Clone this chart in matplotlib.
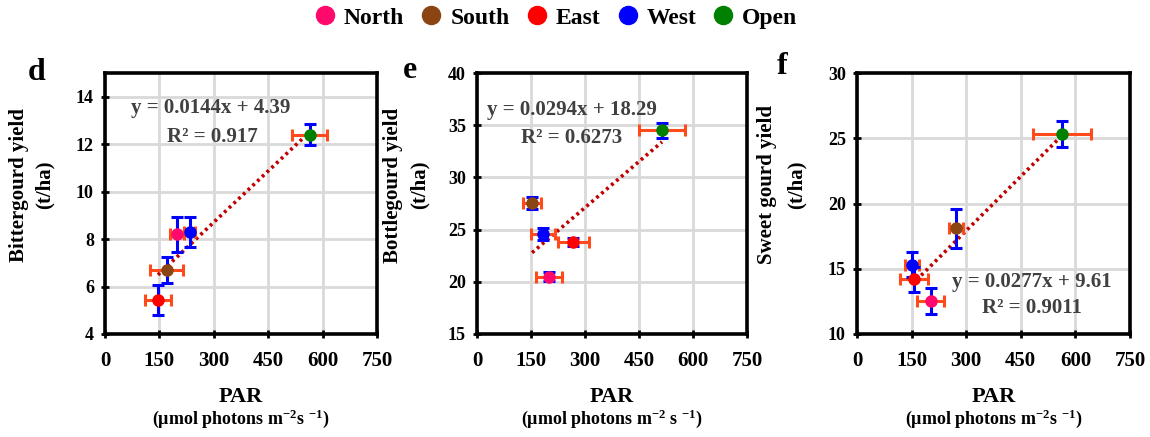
import matplotlib
matplotlib.use("Agg")
import matplotlib.pyplot as plt
from matplotlib.lines import Line2D
import numpy as np

plt.rcParams["font.family"] = ["Liberation Serif", "DejaVu Serif"]
plt.rcParams["font.weight"] = "bold"
plt.rcParams["mathtext.fontset"] = "custom"
plt.rcParams["mathtext.rm"] = "Liberation Serif:bold"
plt.rcParams["mathtext.default"] = "rm"

# Orientation groups
zones = ["North", "South", "East", "West", "Open"]
zone_colors = ["#FF0A6C", "#8B4513", "#FF0000", "#0000FF", "#008000"]

# Panel d: bittergourd
d_par = [198, 170, 146, 234, 565]
d_par_err = [20, 45, 37, 15, 48]
d_yield = [8.2, 6.7, 5.45, 8.3, 12.4]
d_yield_err = [0.75, 0.55, 0.63, 0.65, 0.45]
d_fit = (0.0144, 4.39, 0.917)

# Panel e: bottlegourd
e_par = [200, 153, 267, 183, 514]
e_par_err = [35, 25, 43, 33, 64]
e_yield = [20.5, 27.55, 23.8, 24.6, 34.5]
e_yield_err = [0.4, 0.6, 0.4, 0.6, 0.75]
e_fit = (0.0294, 18.29, 0.6273)

# Panel f: sweet gourd
f_par = [203, 272, 157, 151, 563]
f_par_err = [37, 20, 39, 18, 80]
f_yield = [12.5, 18.1, 14.2, 15.3, 25.3]
f_yield_err = [1.0, 1.5, 0.95, 0.95, 1.0]
f_fit = (0.0277, 9.61, 0.9011)

x_ticks = [0, 150, 300, 450, 600, 750]

W, H = 1150, 437
fig = plt.figure(figsize=(W / 100, H / 100), dpi=100)


def px(x, y):
    return x / W, 1 - y / H


panels = [
    dict(letter="d", par=d_par, perr=d_par_err, yld=d_yield, yerr=d_yield_err,
         fit=d_fit, ylim=(4, 15), yticks=[4, 6, 8, 10, 12, 14],
         ylabel="Bittergourd yield", left=105, right=377,
         letter_xy=(37, 72), ylab_x=(19, 45),
         eq_xy=(211, 108), r2_xy=(212, 137),
         xlab2=r"(µmol photons m$^{-2}$s $^{-1}$)"),
    dict(letter="e", par=e_par, perr=e_par_err, yld=e_yield, yerr=e_yield_err,
         fit=e_fit, ylim=(15, 40), yticks=[15, 20, 25, 30, 35, 40],
         ylabel="Bottlegourd yield", left=477, right=747,
         letter_xy=(410, 71), ylab_x=(393, 420),
         eq_xy=(572, 110), r2_xy=(572, 138),
         xlab2=r"(µmol photons m$^{-2}$ s $^{-1}$)"),
    dict(letter="f", par=f_par, perr=f_par_err, yld=f_yield, yerr=f_yield_err,
         fit=f_fit, ylim=(10, 30), yticks=[10, 15, 20, 25, 30],
         ylabel="Sweet gourd yield", left=857, right=1130,
         letter_xy=(782, 66), ylab_x=(767, 797),
         eq_xy=(1032, 282), r2_xy=(1032, 308),
         xlab2=r"(µmol photons m$^{-2}$s $^{-1}$)"),
]

top_px, bot_px = 73, 334

for p in panels:
    l, r = p["left"], p["right"]
    ax = fig.add_axes([l / W, 1 - bot_px / H, (r - l) / W, (bot_px - top_px) / H])
    ax.set_xlim(0, 750)
    ax.set_ylim(*p["ylim"])
    ax.set_xticks(x_ticks)
    ax.set_yticks(p["yticks"])
    ax.grid(True, color="#D9D9D9", linewidth=2)
    ax.set_axisbelow(True)
    for s in ax.spines.values():
        s.set_linewidth(2.6)
        s.set_color("black")
    ax.tick_params(axis="x", direction="inout", length=6, width=2, labelsize=15, pad=9)
    ax.tick_params(axis="y", direction="inout", length=6, width=2, labelsize=13, pad=5)
    for t in ax.get_xticklabels() + ax.get_yticklabels():
        t.set_fontweight("bold")

    slope, icpt, r2 = p["fit"]
    xs = np.array([min(p["par"]), max(p["par"])])
    ax.plot(xs, slope * xs + icpt, color="#C00000", linewidth=2.6,
            linestyle=(0, (0.8, 1.0)), zorder=3)

    for i in range(len(zones)):
        ax.errorbar(p["par"][i], p["yld"][i], xerr=p["perr"][i], fmt="none",
                    ecolor="#FF4A1C", elinewidth=2.2, capsize=4, capthick=2.2, zorder=4)
        ax.errorbar(p["par"][i], p["yld"][i], yerr=p["yerr"][i], fmt="none",
                    ecolor="#0000FF", elinewidth=2.2, capsize=4, capthick=2.2, zorder=5)
        ax.plot(p["par"][i], p["yld"][i], "o", color=zone_colors[i],
                markersize=8, zorder=6)

    fig.text(*px(*p["eq_xy"]), f"y = {slope}x + {icpt}", ha="center", va="center",
             fontsize=15, fontweight="bold", color="#404040")
    fig.text(*px(*p["r2_xy"]), f"R² = {r2}", ha="center", va="center",
             fontsize=15, fontweight="bold", color="#404040")

    fig.text(*px(*p["letter_xy"]), p["letter"], ha="center", va="center",
             fontsize=23, fontweight="bold")
    fig.text(*px(p["ylab_x"][0], 185), p["ylabel"], rotation=90, ha="center",
             va="center", fontsize=15, fontweight="bold")
    fig.text(*px(p["ylab_x"][1], 185), "(t/ha)", rotation=90, ha="center",
             va="center", fontsize=15, fontweight="bold")

    cx = (l + r) / 2
    fig.text(*px(cx, 397), "PAR", ha="center", va="center", fontsize=16,
             fontweight="bold")
    fig.text(*px(cx, 419), p["xlab2"], ha="center", va="center", fontsize=13,
             fontweight="bold")

handles = [Line2D([], [], marker="o", linestyle="none", color=c, markersize=13)
           for c in zone_colors]
fig.legend(handles, zones, loc="center", bbox_to_anchor=px(556, 18), ncol=5,
           frameon=False, handlelength=0.9, handletextpad=0.35, columnspacing=0.7,
           prop=dict(family="Liberation Serif", weight="bold", size=17))

fig.savefig("out.png", dpi=100)
